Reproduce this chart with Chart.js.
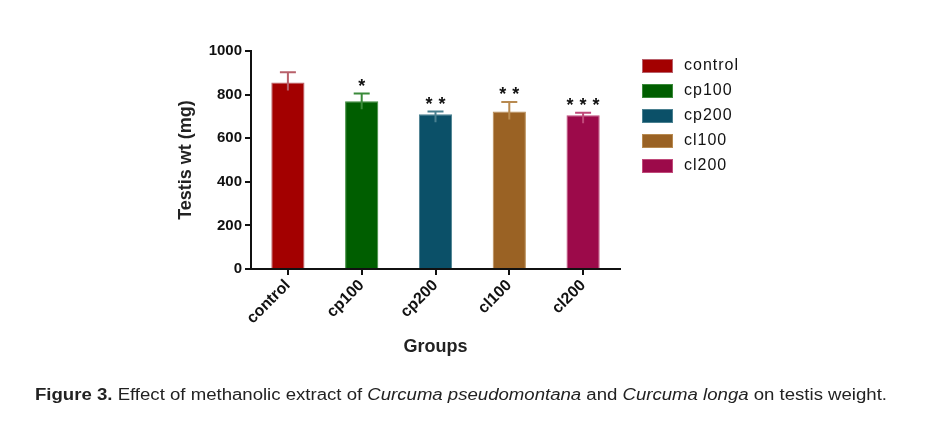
<!DOCTYPE html>
<html>
<head>
<meta charset="utf-8">
<script src="https://cdn.jsdelivr.net/npm/chart.js@4.4.1/dist/chart.umd.min.js"></script>
<style>
  html, body { margin: 0; padding: 0; background: #fff; }
  #wrap { position: relative; width: 932px; height: 434px; overflow: hidden; }
  #c { position: absolute; left: 0; top: 0; }
  #cap { position: absolute; left: 35px; top: 386px; white-space: nowrap;
         font-family: "Liberation Sans", Arial, sans-serif; font-size: 16px; color: #222;
         transform-origin: 0 0; }
</style>
</head>
<body>
<div id="wrap">
  <canvas id="c" width="932" height="434"></canvas>
  <div id="cap"><b>Figure 3.</b> Effect of methanolic extract of <i>Curcuma pseudomontana</i> and <i>Curcuma longa</i> on testis weight.</div>
</div>
<script>
const categories = ["control", "cp100", "cp200", "cl100", "cl200"];
const meanValues = [855, 770, 710, 722, 705];
const errorValues = [47, 35, 12, 44, 12];
const significance = ["", "*", "**", "**", "***"];
const yTicks = [0, 200, 400, 600, 800, 1000];
const barColors = ["#a30000", "#005e00", "#0b5068", "#9a6224", "#9c0a4a"];
const errColors = ["#b8606a", "#3a8a3a", "#4a8090", "#b88a50", "#c04a7a"];

(function(){
  const cap = document.getElementById('cap');
  const w = cap.getBoundingClientRect().width;
  cap.style.transform = 'scaleX(' + (852 / w) + ')';
})();

const FONT = '"Liberation Sans", Arial, sans-serif';

const extrasPlugin = {
  id: 'extras',
  afterDatasetsDraw(chart) {
    const ctx = chart.ctx;
    const meta = chart.getDatasetMeta(0);
    const y = chart.scales.y;
    ctx.save();
    meta.data.forEach((bar, i) => {
      const x = bar.x;
      const top = y.getPixelForValue(meanValues[i] + errorValues[i]);
      const base = y.getPixelForValue(meanValues[i]);
      ctx.strokeStyle = errColors[i];
      ctx.lineWidth = 2;
      ctx.beginPath();
      ctx.moveTo(x, base + 8);
      ctx.lineTo(x, top);
      ctx.moveTo(x - 8, top);
      ctx.lineTo(x + 8, top);
      ctx.stroke();
      const s = significance[i];
      if (s) {
        ctx.fillStyle = '#111';
        ctx.font = 'bold 18px ' + FONT;
        ctx.textAlign = 'center';
        ctx.textBaseline = 'alphabetic';
        const n = s.length;
        const gap = 13;
        for (let k = 0; k < n; k++) {
          const sx = x + (k - (n - 1) / 2) * gap;
          ctx.fillText('*', sx, top - 2);
        }
      }
    });
    // legend
    ctx.font = '16px ' + FONT;
    try { ctx.letterSpacing = '1px'; } catch (e) {}
    ctx.textAlign = 'left';
    ctx.textBaseline = 'middle';
    categories.forEach((c, i) => {
      const cy = 66 + i * 25;
      ctx.fillStyle = barColors[i];
      ctx.fillRect(642, cy - 7, 31, 14);
      ctx.strokeStyle = errColors[i];
      ctx.lineWidth = 1;
      ctx.strokeRect(642.5, cy - 6.5, 30, 13);
      ctx.fillStyle = '#111';
      ctx.fillText(c, 684, cy);
    });
    ctx.restore();
  }
};

new Chart(document.getElementById('c'), {
  type: 'bar',
  data: {
    labels: categories,
    datasets: [{
      data: meanValues,
      backgroundColor: barColors,
      borderColor: errColors,
      borderWidth: 1,
      barPercentage: 0.9,
      categoryPercentage: 0.5
    }]
  },
  options: {
    responsive: false,
    animation: false,
    events: [],
    layout: { padding: { left: 175, top: 51, right: 312, bottom: 76 } },
    plugins: { legend: { display: false }, tooltip: { enabled: false } },
    scales: {
      x: {
        afterFit(s) { s.height = 89; },
        grid: { display: true, drawOnChartArea: false, drawTicks: true, tickLength: 6, color: '#111', lineWidth: 2, offset: false },
        border: { display: true, color: '#111', width: 2 },
        ticks: {
          color: '#111', minRotation: 45, maxRotation: 45, padding: 1,
          font: { family: FONT, size: 16, weight: 'bold' }
        },
        title: {
          display: true, text: 'Groups', color: '#222', padding: { top: 0, bottom: 0 },
          font: { family: FONT, size: 18, weight: 'bold' }
        }
      },
      y: {
        min: 0, max: 1000,
        afterFit(s) { s.width = 76; },
        afterBuildTicks(s) { s.ticks = yTicks.map(v => ({ value: v })); },
        grid: { display: true, drawOnChartArea: false, drawTicks: true, tickLength: 6, color: '#111', lineWidth: 2 },
        border: { display: true, color: '#111', width: 2 },
        ticks: {
          color: '#111', padding: 3,
          callback: (v) => String(v),
          font: { family: FONT, size: 15, weight: 'bold' }
        },
        title: {
          display: true, text: 'Testis wt (mg)', color: '#222', padding: { top: 0, bottom: 0 },
          font: { family: FONT, size: 18, weight: 'bold' }
        }
      }
    }
  },
  plugins: [extrasPlugin]
});
</script>
</body>
</html>
